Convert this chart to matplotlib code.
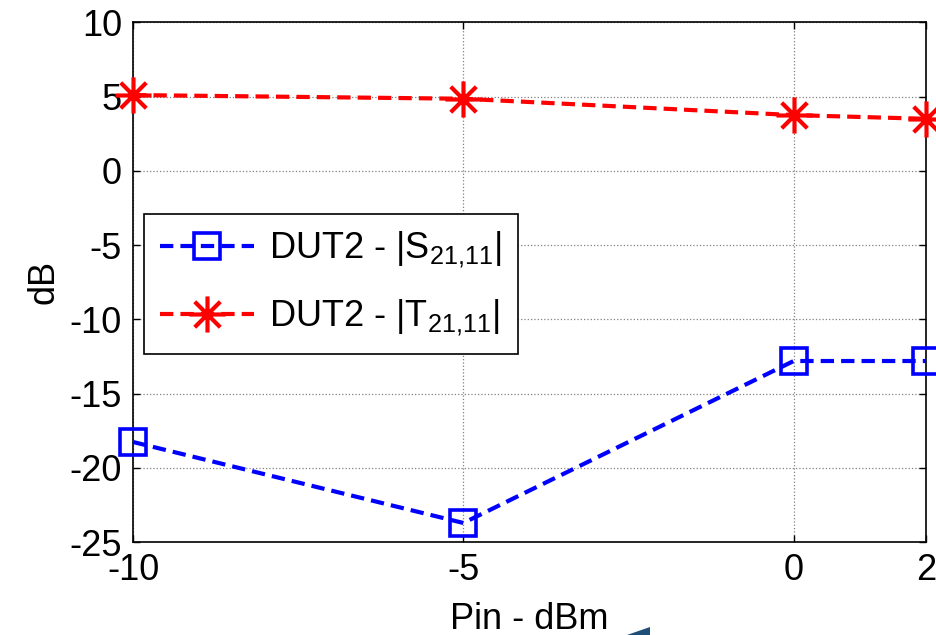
import matplotlib
matplotlib.use("Agg")
import matplotlib.pyplot as plt
from matplotlib.patches import Polygon
from matplotlib.path import Path

plt.rcParams['font.family'] = ['Liberation Sans', 'DejaVu Sans']
plt.rcParams['mathtext.fontset'] = 'custom'
plt.rcParams['mathtext.rm'] = 'Liberation Sans'
plt.rcParams['mathtext.it'] = 'Liberation Sans'
plt.rcParams['axes.unicode_minus'] = False

# data
pin = [-10, -5, 0, 2]
s21_11 = [-18.25, -23.7, -12.8, -12.8]
t21_11 = [5.1, 4.85, 3.75, 3.5]
x_ticks = [-10, -5, 0, 2]
y_ticks = [-25, -20, -15, -10, -5, 0, 5, 10]

# matlab style asterisk: vertical, horizontal and two diagonal strokes
d = 0.7071
star_path = Path(
    [(0, -1), (0, 1), (-1, 0), (1, 0), (-d, -d), (d, d), (-d, d), (d, -d)],
    [Path.MOVETO, Path.LINETO] * 4)

fig = plt.figure(figsize=(9.37, 6.35), dpi=100)
ax = fig.add_axes([0.142, 0.146, 0.846, 0.819])

dash = (3.2, 1.7)
ax.plot(pin, s21_11, color='#0000ff', linestyle='--', dashes=dash, lw=3,
        marker='s', markersize=19, markerfacecolor='none', markeredgewidth=2.6,
        clip_on=False, zorder=3, label=r'DUT2 - |S$_{21{,}11}$|')
ax.plot(pin, t21_11, color='#ff0000', linestyle='--', dashes=dash, lw=3,
        marker=star_path, markersize=26, markeredgewidth=3,
        clip_on=False, zorder=3, label=r'DUT2 - |T$_{21{,}11}$|')

ax.set_xlim(-10, 2)
ax.set_ylim(-25, 10)
ax.set_xticks(x_ticks)
ax.set_yticks(y_ticks)
ax.tick_params(direction='in', length=5, width=1, top=True, right=True,
               labelsize=26, pad=8)
ax.grid(True, linestyle=':', color='#808080', lw=0.9)
for sp in ax.spines.values():
    sp.set_linewidth(1.2)

ax.set_xlabel('Pin - dBm', fontsize=26, labelpad=10)
ax.set_ylabel('dB', fontsize=26, labelpad=6)

leg = ax.legend(loc='upper left', bbox_to_anchor=(0.014, 0.632), fontsize=26,
                fancybox=False, framealpha=1, edgecolor='black',
                handlelength=2.6, borderpad=0.45, labelspacing=0.75,
                handletextpad=0.4, borderaxespad=0)
leg.get_frame().set_linewidth(1.2)

# small dark-blue corner shape at the bottom of the image
fig.patches.append(Polygon([(627 / 937, 0.0), (650 / 937, 8 / 635), (650 / 937, 0.0)],
                           closed=True, transform=fig.transFigure,
                           facecolor='#1f4e79', edgecolor='none'))

fig.savefig('out.png', dpi=100)
